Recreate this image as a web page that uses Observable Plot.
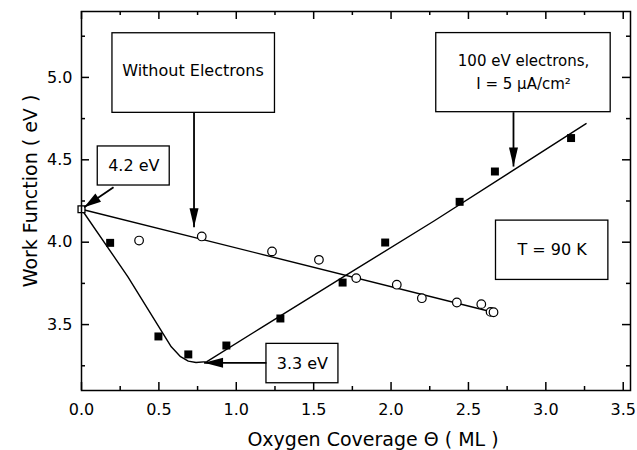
<!DOCTYPE html>
<html>
<head>
<meta charset="utf-8">
<script src="https://cdn.jsdelivr.net/npm/d3@7"></script>
<script src="https://cdn.jsdelivr.net/npm/@observablehq/plot@0.6"></script>
<style>
  html, body { margin: 0; padding: 0; background: #fff; }
</style>
</head>
<body>
<div id="chart"></div>
<script>
// ---- Data ----
// Filled squares: 100 eV electrons, I = 5 µA/cm²
const withX = [0.185, 0.497, 0.69, 0.936, 1.285, 1.687, 1.962, 2.443, 2.671, 3.163];
const withY = [3.996, 3.428, 3.319, 3.373, 3.537, 3.755, 3.998, 4.245, 4.429, 4.632];
// Open circles: without electrons
const woX = [0.372, 0.777, 1.231, 1.534, 1.775, 2.037, 2.199, 2.425, 2.583, 2.643, 2.662];
const woY = [4.010, 4.035, 3.944, 3.893, 3.782, 3.742, 3.660, 3.634, 3.624, 3.577, 3.575];
// Clean surface starting point (open square)
const startX = [0];
const startY = [4.2];
// Drawn guide curves
const fitWithX = [0, 0.30, 0.58, 0.64, 0.69, 0.74, 0.81, 1.16, 1.71, 2.28, 3.26];
const fitWithY = [4.2, 3.79, 3.365, 3.305, 3.278, 3.27, 3.275, 3.48, 3.80, 4.13, 4.72];
const fitWoX = [0, 2.66];
const fitWoY = [4.2, 3.575];
// Ticks
const xMajor = [0, 0.5, 1.0, 1.5, 2.0, 2.5, 3.0, 3.5];
const xMinor = [0.25, 0.75, 1.25, 1.75, 2.25, 2.75, 3.25];
const yMajor = [3.5, 4.0, 4.5, 5.0];
const yMinor = [3.25, 3.75, 4.25, 4.75, 5.25];
// Axis titles
const xTitle = "Oxygen Coverage Θ ( ML )";
const yTitle = "Work Function ( eV )";

// ---- Annotations (data coordinates) ----
const boxes = [
  {x1: 0.200, x2: 1.250, y1: 4.785, y2: 5.268},
  {x1: 2.292, x2: 3.419, y1: 4.789, y2: 5.269},
  {x1: 0.105, x2: 0.570, y1: 4.344, y2: 4.581},
  {x1: 1.195, x2: 1.660, y1: 3.144, y2: 3.383},
  {x1: 2.678, x2: 3.404, y1: 3.771, y2: 4.131}
];
const notes = [
  {x: 0.720, y: 5.040, text: "Without Electrons", size: 16},
  {x: 2.856, y: 5.100, text: "100 eV electrons,", size: 15},
  {x: 2.856, y: 4.957, text: "I = 5 μA/cm²", size: 15},
  {x: 0.338, y: 4.462, text: "4.2 eV", size: 16},
  {x: 1.427, y: 3.264, text: "3.3 eV", size: 16},
  {x: 3.040, y: 3.951, text: "T = 90 K", size: 16}
];
const arrows = [
  {x1: 0.727, y1: 4.785, x2: 0.727, y2: 4.091, angle: 90, len: 19, half: 4.5},
  {x1: 2.791, y1: 4.789, x2: 2.791, y2: 4.459, angle: 90, len: 19, half: 4.5},
  {x1: 0.207, y1: 4.334, x2: 0.017, y2: 4.212, angle: 145.8, len: 17, half: 5},
  {x1: 1.195, y1: 3.268, x2: 0.792, y2: 3.268, angle: 180, len: 19, half: 5}
];

function headSymbol(angleDeg, len, half) {
  const a = angleDeg * Math.PI / 180;
  const ux = Math.cos(a), uy = Math.sin(a);
  return {
    draw(ctx) {
      const bx = -ux * len, by = -uy * len;
      const px = -uy * half, py = ux * half;
      ctx.moveTo(0, 0);
      ctx.lineTo(bx + px, by + py);
      ctx.lineTo(bx - px, by - py);
      ctx.closePath();
    }
  };
}

const W = 637, H = 450;
const mL = 81, mR = 7, mT = 11, mB = 60;
const ph = H - mT - mB;
const pw = W - mL - mR;

const marks = [
  // fitted lines
  Plot.line(fitWoX, {x: fitWoX, y: fitWoY, stroke: "black", strokeWidth: 1.4}),
  Plot.line(fitWithX, {x: fitWithX, y: fitWithY, stroke: "black", strokeWidth: 1.4}),
  // data
  Plot.dot(withX, {x: withX, y: withY, symbol: "square", r: 4.5, fill: "black", stroke: "none"}),
  Plot.dot(woX, {x: woX, y: woY, r: 4.3, fill: "white", stroke: "black", strokeWidth: 1.2}),
  Plot.dot(startX, {x: startX, y: startY, symbol: "square", r: 3.9, fill: "white", stroke: "black", strokeWidth: 1.3}),
  // annotation boxes
  Plot.rect(boxes, {x1: "x1", x2: "x2", y1: "y1", y2: "y2", fill: "white", stroke: "black", strokeWidth: 1.3}),
  Plot.text(notes, {x: "x", y: "y", text: "text", fontSize: d => d.size, fill: "black"}),
  // arrows
  Plot.link(arrows, {x1: "x1", y1: "y1", x2: "x2", y2: "y2", stroke: "black", strokeWidth: 1.8}),
  ...arrows.map(a => Plot.dot([a], {x: "x2", y: "y2", symbol: headSymbol(a.angle, a.len, a.half), r: 5, fill: "black", stroke: "none"})),
  // frame & inward ticks
  Plot.frame({stroke: "black", strokeWidth: 1.5}),
  Plot.tickX(xMajor, {x: d => d, insetTop: ph - 8, stroke: "black", strokeWidth: 1.5}),
  Plot.tickX(xMinor, {x: d => d, insetTop: ph - 4, stroke: "black", strokeWidth: 1.5}),
  Plot.tickX(xMajor, {x: d => d, insetBottom: ph - 8, stroke: "black", strokeWidth: 1.5}),
  Plot.tickX(xMinor, {x: d => d, insetBottom: ph - 4, stroke: "black", strokeWidth: 1.5}),
  Plot.tickY(yMajor, {y: d => d, insetRight: pw - 8, stroke: "black", strokeWidth: 1.5}),
  Plot.tickY(yMinor, {y: d => d, insetRight: pw - 4, stroke: "black", strokeWidth: 1.5}),
  Plot.tickY(yMajor, {y: d => d, insetLeft: pw - 8, stroke: "black", strokeWidth: 1.5}),
  Plot.tickY(yMinor, {y: d => d, insetLeft: pw - 4, stroke: "black", strokeWidth: 1.5}),
  // tick labels
  Plot.axisX({ticks: xMajor, tickSize: 0, tickPadding: 13, tickFormat: d3.format(".1f"), fontSize: 16, label: null, fill: "black"}),
  Plot.axisY({ticks: yMajor, tickSize: 0, tickPadding: 9, tickFormat: d3.format(".1f"), fontSize: 16, label: null, fill: "black"}),
  // axis titles
  Plot.text([xTitle], {text: d => d, frameAnchor: "bottom", textAnchor: "middle", lineAnchor: "bottom", dy: 55, dx: 17, fontSize: 19, fill: "black"}),
  Plot.text([yTitle], {text: d => d, frameAnchor: "left", textAnchor: "middle", lineAnchor: "bottom", rotate: -90, dx: -45, dy: -10, fontSize: 19, fill: "black"})
];

const chart = Plot.plot({
  width: W,
  height: H,
  marginLeft: mL,
  marginRight: mR,
  marginTop: mT,
  marginBottom: mB,
  x: {domain: [0, 3.547]},
  y: {domain: [3.1, 5.4]},
  style: {fontFamily: "'DejaVu Sans', sans-serif", background: "white", color: "black"},
  marks
});
document.getElementById("chart").appendChild(chart);
</script>
</body>
</html>
